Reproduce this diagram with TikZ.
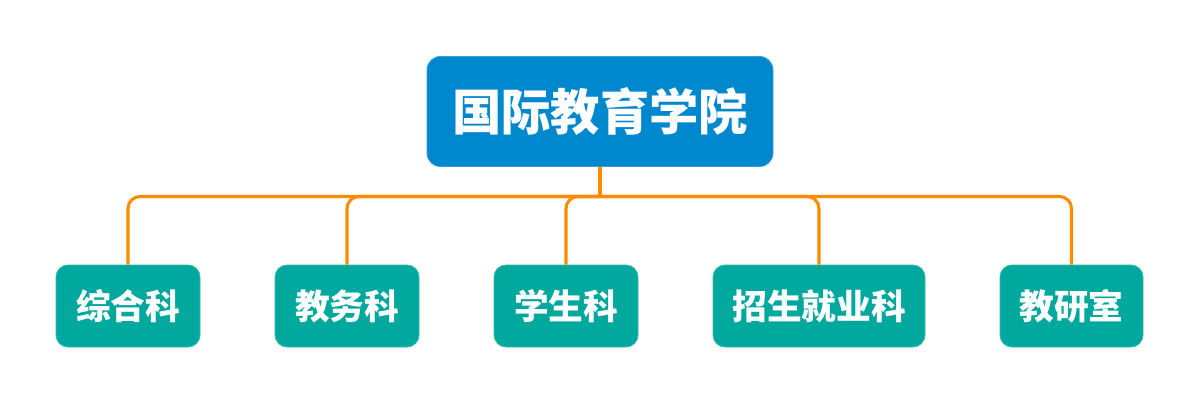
\documentclass[tikz,border=0pt]{standalone}
\usepackage{fontspec}
\newfontfamily\cjk{Noto Sans CJK SC}
\definecolor{topblue}{RGB}{0,136,206}
\definecolor{teal}{RGB}{0,168,157}
\definecolor{lineor}{RGB}{255,140,0}
\begin{document}
\begin{tikzpicture}[x=0.75pt,y=-0.75pt,
  topbox/.style={fill=topblue,draw=topblue!80!white,line width=0.6pt,rounded corners=10pt,
    minimum width=346*0.75pt,minimum height=110*0.75pt,inner sep=0pt,
    text=white,font=\cjk\bfseries\fontsize{37pt}{42pt}\selectfont},
  subbox/.style={fill=teal,draw=teal!80!white,line width=0.6pt,rounded corners=9pt,
    minimum height=82*0.75pt,inner sep=0pt,
    text=white,font=\cjk\bfseries\fontsize{26pt}{30pt}\selectfont},
  conn/.style={draw=lineor,line width=2.3pt,rounded corners=9pt}]
\useasboundingbox (0,0) rectangle (1200,404);
\node[topbox] (root) at (600,111.5) {国际教育学院};
\node[subbox,minimum width=144*0.75pt] (a) at (128,306) {综合科};
\node[subbox,minimum width=144*0.75pt] (b) at (347,306) {教务科};
\node[subbox,minimum width=144*0.75pt] (c) at (566,306) {学生科};
\node[subbox,minimum width=212*0.75pt] (d) at (819,306) {招生就业科};
\node[subbox,minimum width=143*0.75pt] (e) at (1071.5,306) {教研室};
\coordinate (j) at (600,196.5);
\draw[conn] (root.south) -- (j);
\foreach \n in {a,b,c,d,e}{
  \draw[conn] (j) -| (\n.north);
}
\end{tikzpicture}
\end{document}
